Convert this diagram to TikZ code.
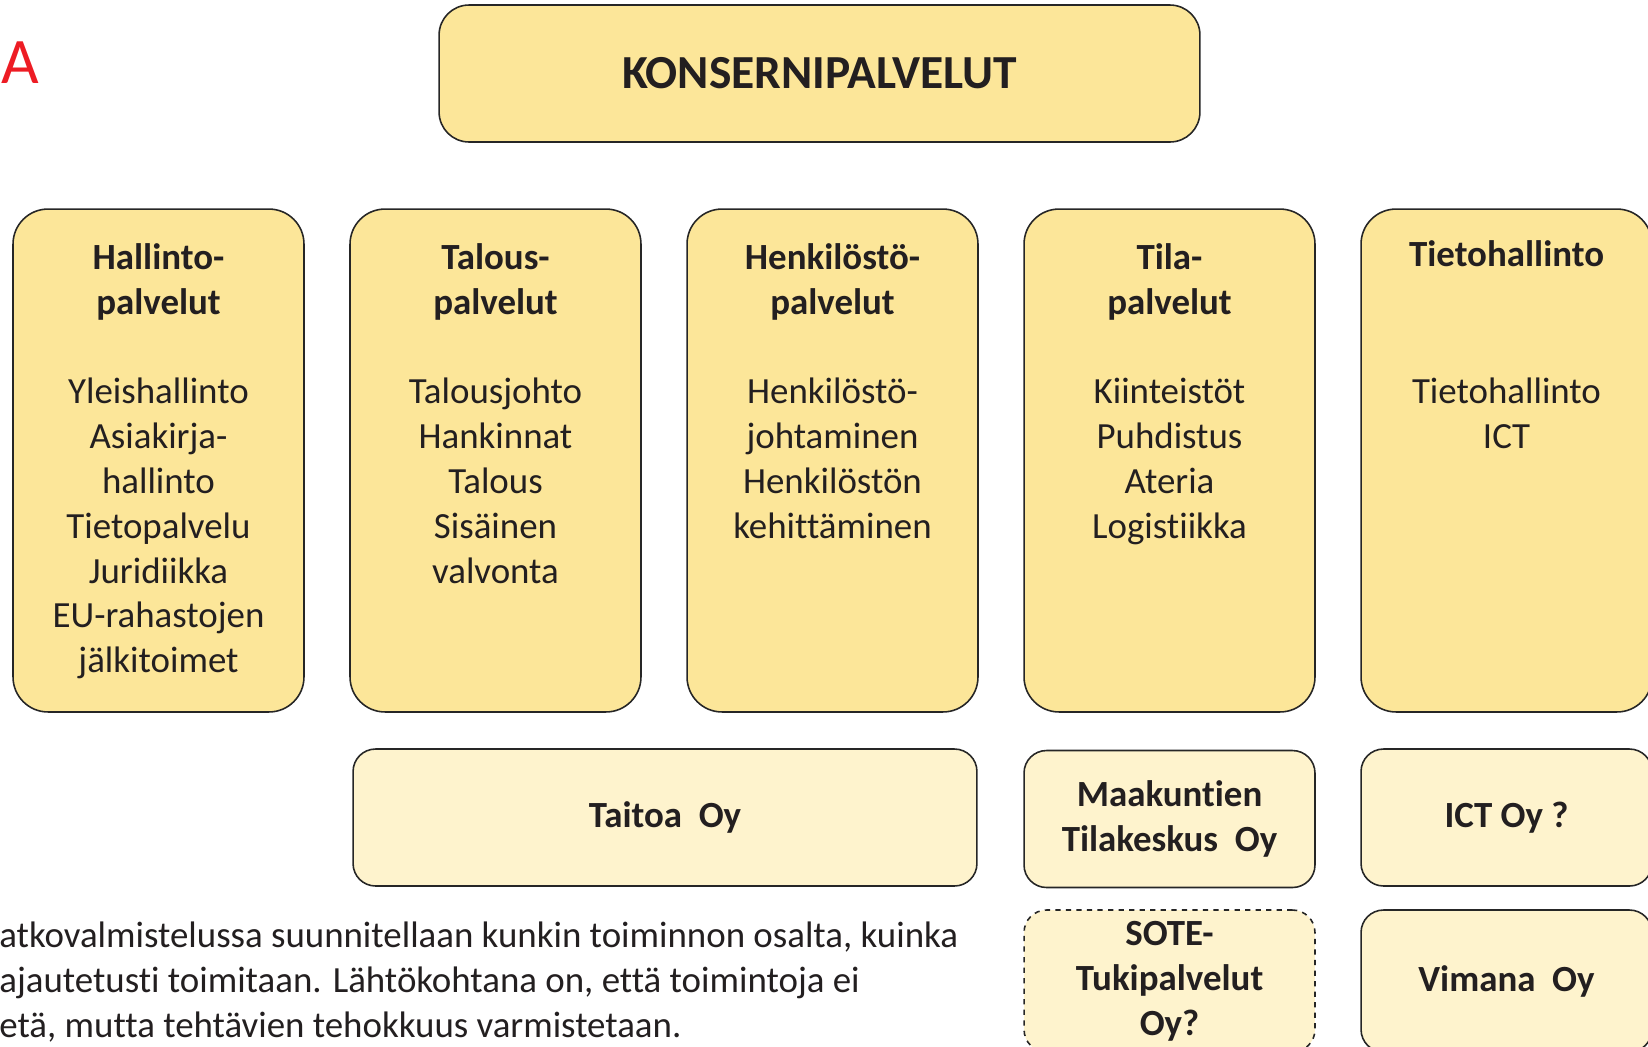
\documentclass[tikz,border=0pt]{standalone}
\usepackage{fontspec}
\setmainfont[Ligatures=NoCommon]{Carlito}
\usetikzlibrary{positioning}
\definecolor{gold}{HTML}{FCE699}
\definecolor{paleGold}{HTML}{FEF3CD}
\definecolor{edge}{HTML}{262626}
\definecolor{ink}{HTML}{231F20}
\definecolor{letterRed}{HTML}{ED1C24}
\tikzstyle{topbox}=[rectangle,rounded corners=0.6cm,fill=gold,draw=edge,line width=0.9pt,minimum width=15.22cm,minimum height=2.74cm,inner sep=0pt,text=ink,font=\fontsize{27}{30}\selectfont\bfseries]
\tikzstyle{colbox}=[rectangle,rounded corners=0.7cm,fill=gold,draw=edge,line width=0.9pt,minimum width=5.82cm,minimum height=10.06cm,inner sep=0pt]
\tikzstyle{firmbox}=[rectangle,rounded corners=0.45cm,fill=paleGold,draw=edge,line width=0.9pt,minimum height=2.74cm,inner sep=0pt,align=center,text=ink,font=\fontsize{21}{25.5}\selectfont\bfseries]
\tikzstyle{headtext}=[anchor=north,align=center,inner sep=0pt,text=ink,font=\fontsize{21}{25.5}\selectfont\bfseries,execute at begin node=\strut]
\tikzstyle{bodytext}=[anchor=north,align=center,inner sep=0pt,text=ink,font=\fontsize{21}{25.5}\selectfont,execute at begin node=\strut]

\begin{document}
\begin{tikzpicture}[x=0.02cm, y=-0.02cm]
\useasboundingbox (0,0) rectangle (1648,1046);

%Letter
\node[text=letterRed, inner sep=0pt, font=\fontsize{37}{40}\selectfont] (letter) at (20,63) {A};

%Top
\node[topbox] (top) at (819.5,73.5) {KONSERNIPALVELUT};

%Columns
\foreach \i/\name/\hy/\head/\body in {
    0/hal/243/{Hallinto-\\palvelut}/{Yleishallinto\\Asiakirja-\\hallinto\\Tietopalvelu\\Juridiikka\\EU-rahastojen\\jälkitoimet},
    1/tal/243/{Talous-\\palvelut}/{Talousjohto\\Hankinnat\\Talous\\Sisäinen\\valvonta},
    2/hen/243/{Henkilöstö-\\palvelut}/{Henkilöstö-\\johtaminen\\Henkilöstön\\kehittäminen},
    3/til/243/{Tila-\\palvelut}/{Kiinteistöt\\Puhdistus\\Ateria\\Logistiikka},
    4/tie/235/{Tietohallinto}/{Tietohallinto\\ICT}}
  {
    \pgfmathsetmacro\cx{158.5+337*\i}
    \node[colbox] (\name) at (\cx,460.5) {};
    \node[headtext] (\name-head) at (\cx,\hy) {\head};
    \node[bodytext] (\name-body) at (\cx,378) {\body};
  }

%Companies
\node[firmbox, minimum width=12.48cm] (taitoa) at (665,817.5) {Taitoa~ Oy};
\node[firmbox, minimum width=5.82cm] (maak) at (1169.5,819) {Maakuntien\\Tilakeskus~ Oy};
\node[firmbox, minimum width=5.82cm] (ict) at (1506.5,817.5) {ICT Oy ?};
\node[firmbox, minimum width=5.82cm, minimum height=2.84cm, dashed] (sote) at (1169.5,981) {SOTE-\\Tukipalvelut\\Oy?};
\node[firmbox, minimum width=5.82cm, minimum height=2.84cm] (vimana) at (1506.5,981) {Vimana~ Oy};

%Text
\node[anchor=north west, align=left, inner sep=0pt, text=ink, font=\fontsize{21}{25.5}\selectfont, execute at begin node=\strut] (note) at (-1,922)
  {atkovalmistelussa suunnitellaan kunkin toiminnon osalta, kuinka\\
   ajautetusti toimitaan. Lähtökohtana on, että toimintoja ei\\
   etä, mutta tehtävien tehokkuus varmistetaan.};

\end{tikzpicture}
\end{document}
